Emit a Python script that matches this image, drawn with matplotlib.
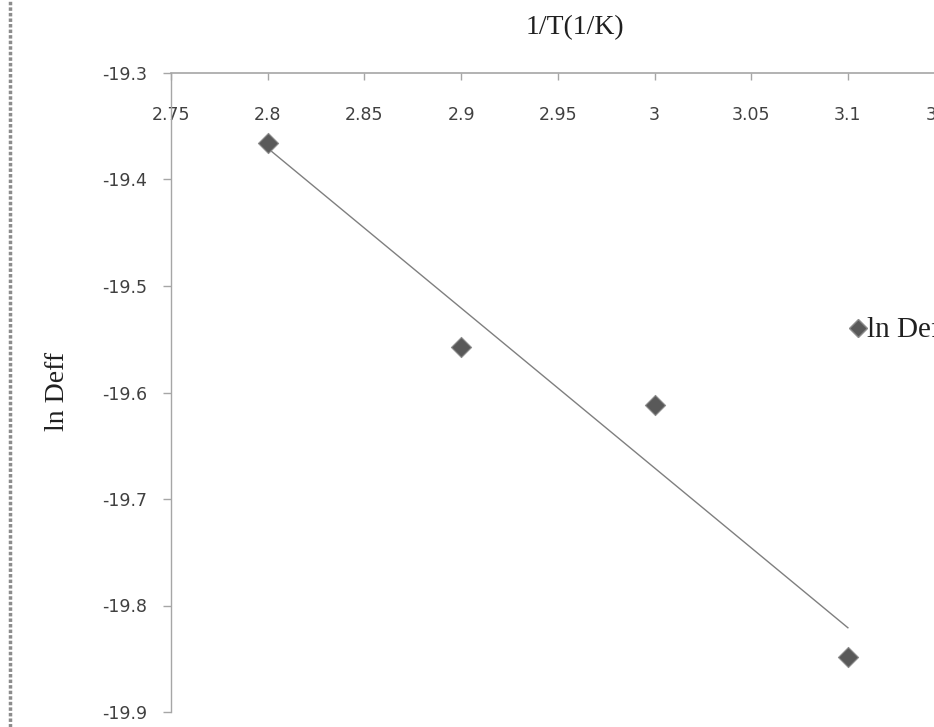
import numpy as np
import matplotlib.pyplot as plt
from matplotlib.lines import Line2D

# data
inv_T = [2.8, 2.9, 3.0, 3.1]
ln_deff = [-19.366, -19.557, -19.612, -19.848]
x_ticks = [2.75, 2.8, 2.85, 2.9, 2.95, 3.0, 3.05, 3.1, 3.15]
x_labels = ["2.75", "2.8", "2.85", "2.9", "2.95", "3", "3.05", "3.1", "3.15"]
y_ticks = [-19.3, -19.4, -19.5, -19.6, -19.7, -19.8, -19.9]

serif = "Liberation Serif"
axis_col = "#a6a6a6"
tick_col = "#404040"

fig = plt.figure(figsize=(9.34, 7.27), dpi=100)
ax = fig.add_axes([171 / 934, 15 / 727, (944.6 - 171) / 934, 639 / 727])

# linear trendline like excel
k, b = np.polyfit(inv_T, ln_deff, 1)
xs = np.array([inv_T[0], inv_T[-1]])
ax.plot(xs, k * xs + b, color="#7f7f7f", lw=1.0, zorder=2)
ax.scatter(inv_T, ln_deff, marker="D", s=105, color="#595959",
           edgecolors="#8c8c8c", linewidths=0.8, zorder=3)

ax.set_xlim(2.75, 3.15)
ax.set_ylim(-19.9, -19.3)
ax.set_xticks(x_ticks)
ax.set_xticklabels(x_labels)
ax.set_yticks(y_ticks)
ax.set_yticklabels([f"{v:.1f}" for v in y_ticks])

for s in ["right", "top"]:
    ax.spines[s].set_visible(False)
ax.spines["bottom"].set_position(("data", -19.3))
ax.spines["bottom"].set_color(axis_col)
ax.spines["bottom"].set_linewidth(1.2)
ax.spines["left"].set_color(axis_col)
ax.spines["left"].set_linewidth(1.0)

ax.tick_params(axis="x", direction="out", length=5, width=1, color=axis_col,
               pad=19, labelsize=12.5, labelcolor=tick_col)
ax.tick_params(axis="y", direction="out", length=6, width=1, color=axis_col,
               pad=11, labelsize=12.5, labelcolor=tick_col)
for lab in ax.get_xticklabels() + ax.get_yticklabels():
    lab.set_fontfamily("DejaVu Sans")

fig.text(575 / 934, 1 - 28 / 727, "1/T(1/K)", ha="center", va="center",
         fontsize=20, family=serif, color="#202020")
fig.text(58 / 934, 1 - 391 / 727, "ln Deff", ha="center", va="center",
         rotation=90, fontsize=20, family=serif, color="#202020")

# legend, cut by the right edge as in the source
fig.add_artist(Line2D([858 / 934], [1 - 328 / 727], marker="D", markersize=9,
                      color="#595959", markeredgecolor="#8c8c8c", ls="none"))
fig.text(867 / 934, 1 - 330 / 727, "ln Deff", ha="left", va="center",
         fontsize=21, family=serif, color="#202020")

# dotted frame line on the left
fig.add_artist(Line2D([10 / 934, 10 / 934], [0, 1], color="#8c8c8c", lw=2.5,
                      ls=(0, (1, 0.6))))

fig.savefig("out.png", dpi=100)
